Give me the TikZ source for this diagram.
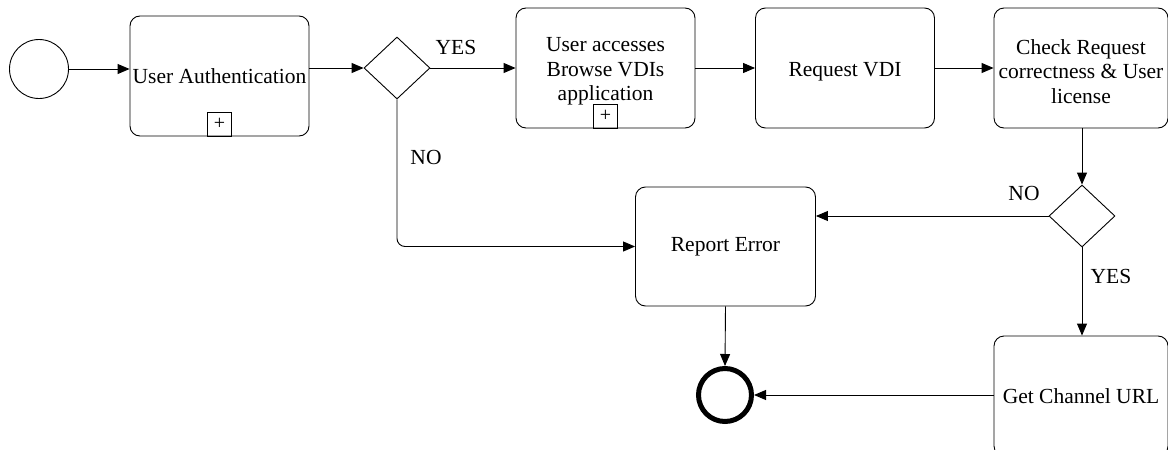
\documentclass[tikz,border=0pt]{standalone}
\usepackage{fontspec}
\setmainfont{Liberation Serif}
\usetikzlibrary{shapes.geometric,arrows.meta}
\begin{document}
\begin{tikzpicture}[x=1pt,y=-1pt,
  every node/.style={font=\fontsize{21.5}{24.5}\selectfont},
  task/.style={draw,rounded corners=10pt,line width=0.9pt,minimum width=179pt,minimum height=120pt,align=center,inner sep=0pt},
  tasktext/.style={align=center,inner sep=0pt},
  gate/.style={draw,diamond,aspect=1,inner sep=0pt,minimum width=66pt,minimum height=62pt,line width=0.9pt},
  flow/.style={draw,line width=0.9pt,-{Triangle[length=12pt,width=10pt]}},
  marker/.style={draw,line width=0.9pt,minimum size=24pt,inner sep=0pt,anchor=south,font=\fontsize{20}{20}\selectfont},
  lbl/.style={inner sep=0pt}]
\useasboundingbox (0,0) rectangle (1168,450);
\node[draw,circle,line width=0.9pt,minimum size=59pt,inner sep=0pt] (start) at (39,69) {};
\node[task] (ua) at (219.5,76) {User Authentication};
\node[marker] (uam) at (ua.south) {+};
\node[gate] (g1) at (397,68) {};
\node[task] (bv) at (605.5,68) {};
\node[tasktext] (bvt) at ([yshift=-3.5pt]bv.center) {User accesses\\Browse VDIs\\application};
\node[marker] (bvm) at (bv.south) {+};
\node[task] (rv) at (845,68) {};
\node[tasktext] (rvt) at ([yshift=-3.5pt]rv.center) {Request VDI};
\node[task,minimum width=174pt] (cr) at (1081,68) {};
\node[tasktext] (crt) at ([yshift=-3.5pt]cr.center) {Check Request\\correctness \& User\\license};
\node[gate] (g2) at (1082,216) {};
\node[task,minimum width=180pt,minimum height=119pt] (re) at (725.5,246.5) {Report Error};
\node[task,minimum width=174pt] (gc) at (1081,396) {Get Channel URL};
\node[draw,circle,line width=5pt,minimum size=53pt,inner sep=0pt] (end) at (725,395) {};

\draw[flow] (start.east) -- (ua.west |- start.east);
\draw[flow] (ua.east |- g1.west) -- (g1.west);
\draw[flow] (g1.east) -- (bv.west);
\draw[flow] (bv.east) -- (rv.west);
\draw[flow] (rv.east) -- (cr.west);
\draw[flow] (g2.north |- cr.south) -- (g2.north);
\draw[flow] (g2.west) -- (re.east |- g2.west);
\draw[flow] (g2.south) -- (g2.south |- gc.north);
\draw[flow,rounded corners=8pt] (g1.south) -- (g1.south |- re.west) -- (re.west);
\draw[flow] (re.south) -- (end.north);
\draw[flow] (gc.west |- end.east) -- (end.east);

\node[lbl] (lyes1) at (456,47) {YES};
\node[lbl] (lno1) at (426,157) {NO};
\node[lbl] (lno2) at (1024,193) {NO};
\node[lbl] (lyes2) at (1111,276) {YES};
\end{tikzpicture}
\end{document}
